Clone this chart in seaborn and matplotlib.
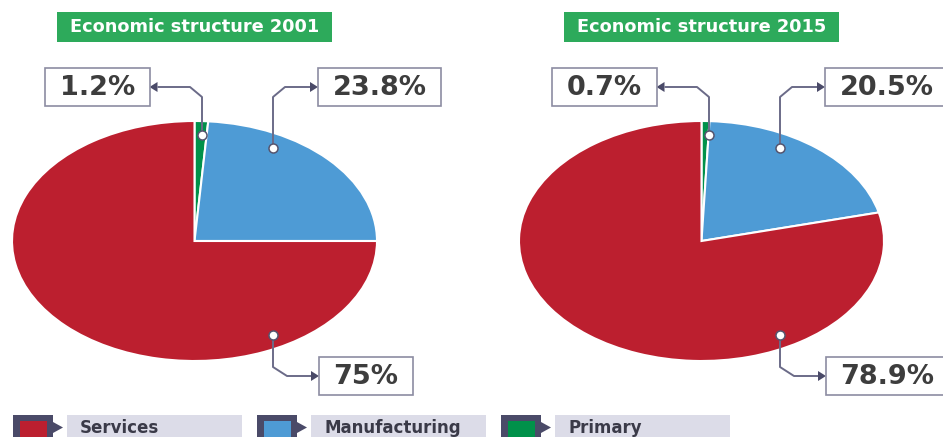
import matplotlib
matplotlib.use("Agg")
import matplotlib.pyplot as plt
from matplotlib.patches import Rectangle, Polygon
import seaborn as sns

# data
sectors = ["Primary", "Manufacturing", "Services"]
years = ["2001", "2015"]
share_2001 = [1.2, 23.8, 75.0]
share_2015 = [0.7, 20.5, 78.9]
labels_2001 = ["1.2%", "23.8%", "75%"]
labels_2015 = ["0.7%", "20.5%", "78.9%"]
legend_order = ["Services", "Manufacturing", "Primary"]

sns.set_theme(style="white")
plt.rcParams['font.family'] = ['DejaVu Sans']

palette = sns.color_palette(["#00914a", "#4e9bd5", "#bc1f2f"])
sector_color = dict(zip(sectors, palette))

W, H = 943, 437
fig = plt.figure(figsize=(W / 100, H / 100), dpi=100)

# pie geometry in pixels (the source picture is stretched sideways)
centers = [194.5, 701.5]
cy, rx, ry = 241, 182.5, 120

for cx, vals in zip(centers, [share_2001, share_2015]):
    ax = fig.add_axes([(cx - rx) / W, (H - cy - ry) / H, 2 * rx / W, 2 * ry / H])
    ax.pie(vals, colors=palette, startangle=90, counterclock=False,
           wedgeprops=dict(edgecolor='white', linewidth=1.5))
    ax.set_xlim(-1, 1)
    ax.set_ylim(-1, 1)
    ax.set_aspect('auto')
    ax.axis('off')

# overlay in pixel coordinates for titles, callouts and legend
ov = fig.add_axes([0, 0, 1, 1], zorder=5)
ov.set_xlim(0, W)
ov.set_ylim(H, 0)
ov.axis('off')
ov.patch.set_alpha(0)

line_col = "#6b6b88"
dark = "#4a4a68"
renderer = fig.canvas.get_renderer()

# callout layout, offsets from the pie centre: dot, elbow, line y, box edge, side
callout_layout = {
    "Primary": dict(dot=(7.5, 135), elbow=97, bend=-4.5, yline=87, edge=-45, side="left"),
    "Manufacturing": dict(dot=(78.5, 148), elbow=97, bend=90.5, yline=87, edge=123.5, side="right"),
    "Services": dict(dot=(78.5, 335), elbow=367, bend=92.5, yline=376, edge=124.5, side="right"),
}

for cx, year, labels in zip(centers, years, [labels_2001, labels_2015]):
    # title
    ov.add_patch(Rectangle((cx - 137.5, 12), 275, 30, color="#2daa5b", lw=0))
    ov.text(cx, 27.5, f"Economic structure {year}", color="white", fontsize=12.8,
            fontweight="bold", ha="center", va="center")

    for sector, lab in zip(sectors, labels):
        c = callout_layout[sector]
        dx, dy = c["dot"]
        edge = cx + c["edge"]
        tip = 8 if c["side"] == "left" else -8
        xs = [cx + dx, cx + dx, cx + c["bend"], edge + tip]
        ys = [dy, c["elbow"], c["yline"], c["yline"]]
        ov.plot(xs, ys, color=line_col, lw=1.4, solid_capstyle="butt")
        ov.add_patch(Polygon([(edge, c["yline"]), (edge + tip, c["yline"] - 5),
                              (edge + tip, c["yline"] + 5)], closed=True, color=dark, lw=0))
        ov.plot(cx + dx, dy, marker="o", ms=6.5, mfc="white", mec="#55556f", mew=1.1)

        t = ov.text(0, c["yline"] + 1, lab, fontsize=19.5, fontweight="bold",
                    color="#3d3d3d", ha="center", va="center")
        bw = t.get_window_extent(renderer).width + 29
        x0 = edge - bw if c["side"] == "left" else edge
        t.set_x(x0 + bw / 2)
        ov.add_patch(Rectangle((x0, c["yline"] - 19), bw, 38, facecolor="white",
                               edgecolor="#8c8ca2", lw=1.2, clip_on=False))

# legend along the bottom edge
for j, name in enumerate(legend_order):
    x0 = 13 + 244 * j
    ov.add_patch(Rectangle((x0, 415), 40, 30, color=dark, lw=0, clip_on=False))
    ov.add_patch(Rectangle((x0 + 7, 421), 27, 25, color=sector_color[name], lw=0, clip_on=False))
    ov.add_patch(Polygon([(x0 + 40, 422), (x0 + 50, 427.5), (x0 + 40, 433)], closed=True,
                         color=dark, lw=0))
    ov.add_patch(Rectangle((x0 + 54, 415), 175, 30, color="#dcdce8", lw=0, clip_on=False))
    ov.text(x0 + 67, 428, name, fontsize=12, fontweight="bold", color="#3a3a48",
            ha="left", va="center")

fig.savefig("out.png", dpi=100)
